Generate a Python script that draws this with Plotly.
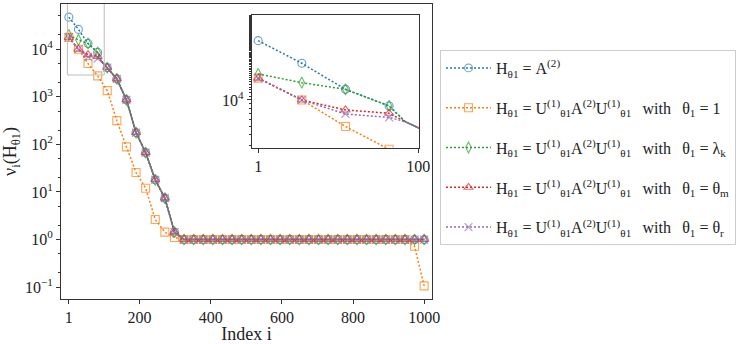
import plotly.graph_objects as go

# marker positions (every 27th index)
idx = [1, 28, 55, 82, 109, 136, 163, 190, 217, 244, 271, 298, 325, 352, 379, 406, 433, 460, 487,
       514, 541, 568, 595, 622, 649, 676, 703, 730, 757, 784, 811, 838, 865, 892, 919, 946, 973, 1000]

# values read at the markers
v_a2 = [47200, 26100, 13200, 8550, 4100, 2380, 860, 177, 67, 18, 7.4, 1.43,
        1.0, 1.0, 1.0, 1.0, 1.0, 1.0, 1.0, 1.0, 1.0, 1.0, 1.0, 1.0, 1.0, 1.0,
        1.0, 1.0, 1.0, 1.0, 1.0, 1.0, 1.0, 1.0, 1.0, 1.0, 1.0, 1.0]
v_one = [17700, 10000, 5000, 2750, 1350, 316, 88.5, 25.6, 12.0, 2.63, 1.43, 1.10,
         1.0, 1.0, 1.0, 1.0, 1.0, 1.0, 1.0, 1.0, 1.0, 1.0, 1.0, 1.0, 1.0, 1.0,
         1.0, 1.0, 1.0, 1.0, 1.0, 1.0, 1.0, 1.0, 1.0, 1.0, 0.72, 0.106]
v_lk = [19800, 15700, 13200, 8550, 4100, 2380, 860, 177, 67, 18, 7.4, 1.43,
        1.0, 1.0, 1.0, 1.0, 1.0, 1.0, 1.0, 1.0, 1.0, 1.0, 1.0, 1.0, 1.0, 1.0,
        1.0, 1.0, 1.0, 1.0, 1.0, 1.0, 1.0, 1.0, 1.0, 1.0, 1.0, 1.0]
v_tm = [17700, 10000, 7700, 7060, 4100, 2380, 860, 177, 67, 18, 7.4, 1.43,
        1.0, 1.0, 1.0, 1.0, 1.0, 1.0, 1.0, 1.0, 1.0, 1.0, 1.0, 1.0, 1.0, 1.0,
        1.0, 1.0, 1.0, 1.0, 1.0, 1.0, 1.0, 1.0, 1.0, 1.0, 1.0, 1.0]
v_tr = [17700, 10000, 6930, 6330, 4100, 2380, 860, 177, 67, 18, 7.4, 1.43,
        1.0, 1.0, 1.0, 1.0, 1.0, 1.0, 1.0, 1.0, 1.0, 1.0, 1.0, 1.0, 1.0, 1.0,
        1.0, 1.0, 1.0, 1.0, 1.0, 1.0, 1.0, 1.0, 1.0, 1.0, 1.0, 1.0]

# point where the curves merge (seen in the inset), no marker there
merge_i = 92
merge_v = 5660

y_ticks = [0.1, 1, 10, 100, 1000, 10000]
y_ticktext = ["10<sup>−1</sup>", "10<sup>0</sup>", "10<sup>1</sup>", "10<sup>2</sup>",
              "10<sup>3</sup>", "10<sup>4</sup>"]
x_ticks = [1, 200, 400, 600, 800, 1000]

H = "H<sub>θ1</sub>"
U = "U<sup>(1)</sup><sub>θ1</sub>"
gap = "\u2002\u2009"
lhs = H + " = " + U + "A<sup>(2)</sup>" + U + gap + "with" + gap + "θ<sub>1</sub> = "
labels = [H + " = A<sup>(2)</sup>", lhs + "1", lhs + "λ<sub>k</sub>",
          lhs + "θ<sub>m</sub>", lhs + "θ<sub>r</sub>"]

colors = ["#1f77b4", "#ff7f0e", "#2ca02c", "#d62728", "#9467bd"]
symbols = ["circle-open", "square-open", "diamond-tall-open", "triangle-up-open", "x-thin-open"]
series = [v_a2, v_one, v_lk, v_tm, v_tr]
merges = [True, False, True, True, True]

fig = go.Figure()

# the overlapping dotted curves look like one grey line on the steep part
gx = [merge_i] + [i for i in idx if 109 <= i <= 298]
gy = [merge_v] + [v for i, v in zip(idx, v_a2) if 109 <= i <= 298]
fig.add_trace(go.Scatter(x=gx, y=gy, mode="lines", line=dict(color="#7f7f7f", width=1.3),
                         showlegend=False, hoverinfo="skip"))

for n, (vals, col, sym, lab, mg) in enumerate(zip(series, colors, symbols, labels, merges)):
    xs, ys, sz = [], [], []
    for i, v in zip(idx, vals):
        if mg and i == 109:
            xs.append(merge_i); ys.append(merge_v); sz.append(0)
        xs.append(i); ys.append(v); sz.append(8)
    common = dict(x=xs, y=ys, mode="lines+markers",
                  line=dict(color=col, width=1.5, dash="2px,2px"),
                  marker=dict(symbol=sym, size=sz, color=col, line=dict(width=1.1, color=col)))
    fig.add_trace(go.Scatter(name=lab, legendgroup=str(n), **common))
    fig.add_trace(go.Scatter(showlegend=False, xaxis="x2", yaxis="y2", **common))

font = "Liberation Serif"
axcol = "#333"
fig.update_layout(
    width=748, height=344,
    margin=dict(l=61, r=316, t=4, b=45, autoexpand=False),
    paper_bgcolor="white", plot_bgcolor="white",
    font=dict(family=font, size=16, color="#222"),
    showlegend=True,
    legend=dict(x=1.0216, y=0.844, xanchor="left", yanchor="top",
                bordercolor="#cccccc", borderwidth=1, bgcolor="white", itemwidth=45,
                font=dict(family=font, size=16), tracegroupgap=16),
    xaxis=dict(range=[-21, 1022], tickvals=x_ticks,
               ticks="outside", ticklen=4, tickcolor=axcol, showline=True, mirror=True,
               linecolor=axcol, linewidth=1, showgrid=False, zeroline=False,
               title=dict(text="Index i", font=dict(size=18), standoff=0)),
    yaxis=dict(type="log", range=[-1.25, 4.95], tickvals=y_ticks, ticktext=y_ticktext,
               ticks="outside", ticklen=4, tickcolor=axcol, showline=True, mirror=True,
               linecolor=axcol, linewidth=1, showgrid=False, zeroline=False,
               minor=dict(ticks="outside", ticklen=2, tickcolor=axcol, showgrid=False),
               title=dict(text="ν<sub>i</sub>(H<sub>θ1</sub>)", font=dict(size=18), standoff=6)),
    xaxis2=dict(domain=[0.514, 0.965], anchor="y2", range=[-3, 100.5], tickvals=[1, 100],
                ticks="outside", ticklen=4, tickcolor=axcol, showline=True, mirror=True,
                linecolor=axcol, linewidth=1, showgrid=False, zeroline=False),
    yaxis2=dict(domain=[0.513, 0.963], anchor="x2", type="log", range=[3.458, 4.966],
                tickvals=[10000], ticktext=["10<sup>4</sup>"], ticks="outside", ticklen=4,
                tickcolor=axcol, showline=True, mirror=True, linecolor=axcol, linewidth=1,
                showgrid=False, zeroline=False,
                minor=dict(ticks="outside", ticklen=2, tickcolor=axcol, showgrid=False)),
    shapes=[dict(type="rect", xref="x", yref="y", x0=-3, x1=100.5,
                 y0=10 ** 3.458, y1=10 ** 4.966, line=dict(color="#bbbbbb", width=1))],
)

# drop the page's default body margin so the figure sits at the window's corner
fig.write_html("out.html", config={"displayModeBar": False},
               post_script="document.body.style.margin='0';")
